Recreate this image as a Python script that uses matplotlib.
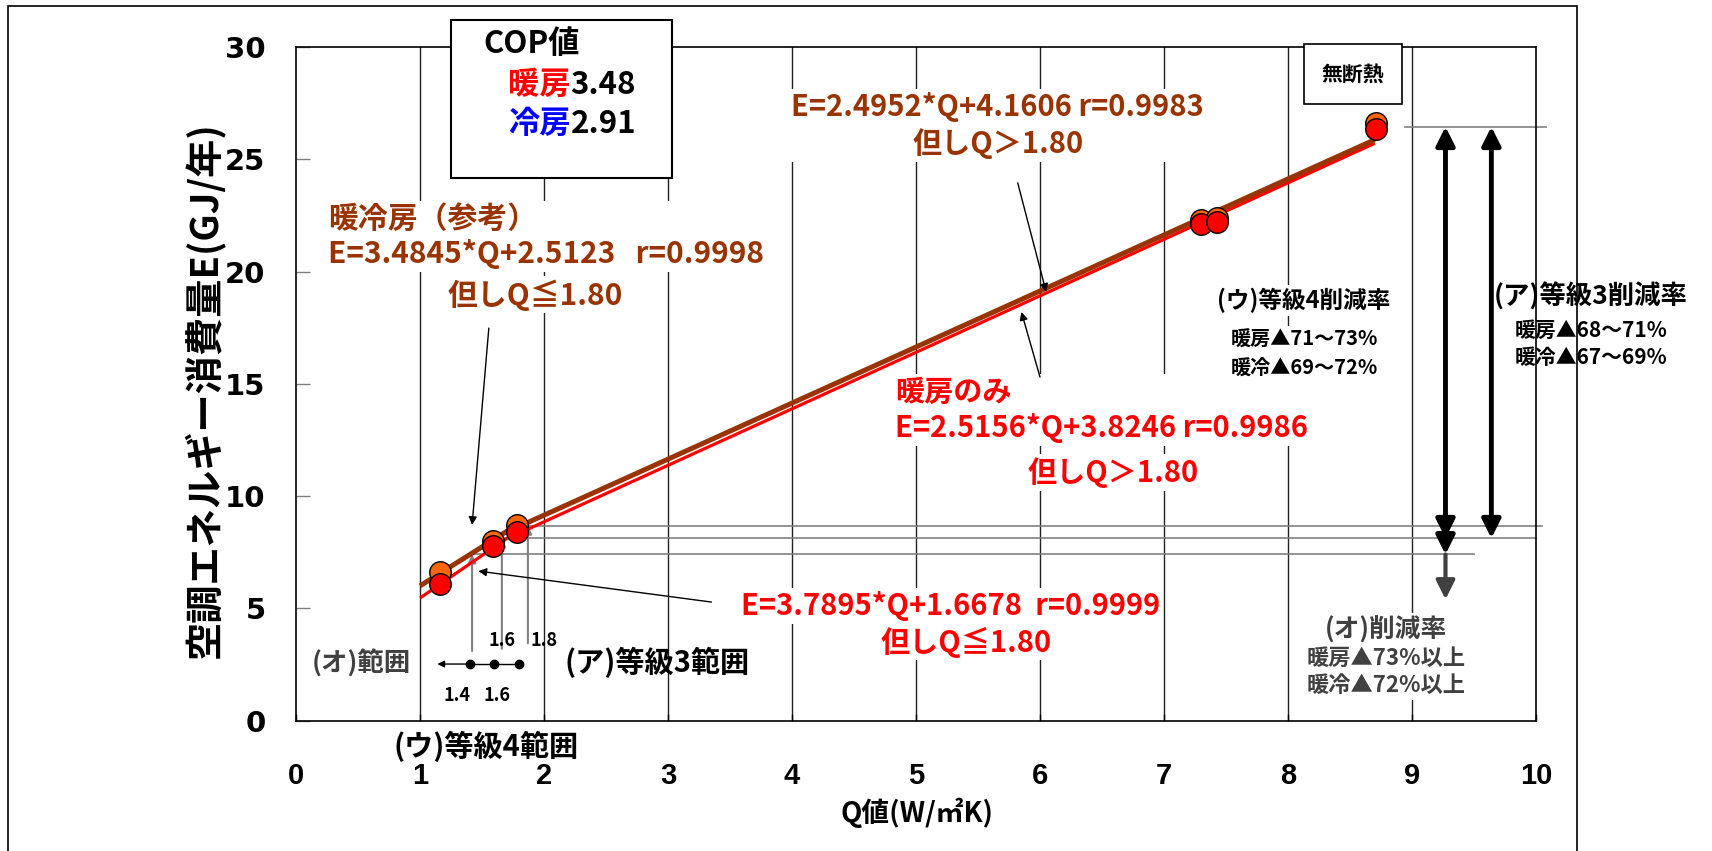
import matplotlib
matplotlib.use("Agg")
import matplotlib.pyplot as plt
from matplotlib.patches import Rectangle

plt.rcParams['font.family'] = ['Noto Sans CJK JP', 'DejaVu Sans']
plt.rcParams['font.weight'] = 'bold'

BROWN = '#993300'
RED = '#ff0000'
ORANGE = '#ff6600'
GRAY = '#808080'
DGRAY = '#404040'

# measured points (Q value, energy E)
q_pts = [1.16, 1.59, 1.78, 7.30, 7.43, 8.71]
e_heatcool = [6.61, 8.02, 8.70, 22.3, 22.4, 26.6]
e_heat = [6.08, 7.78, 8.41, 22.1, 22.2, 26.35]

# fitted lines (end points of the two segments, break at Q=1.80)
fit_q = [1.0, 1.8, 1.8, 8.7]
fit_heatcool = [6.00, 8.78, 8.65, 25.87]
fit_heat = [5.46, 8.49, 8.35, 25.71]

# reference levels and range markers
level_top = 26.45
levels = [8.68, 8.12, 7.40]
level_start = [1.87, 1.66, 1.42]
level_end = [10.05, 10.0, 9.5]
range_q = [1.40, 1.60, 1.80]

xticks = list(range(0, 11))
yticks = list(range(0, 31, 5))

fig = plt.figure(figsize=(17.12, 8.51), dpi=100)
ax = fig.add_axes([0.1729, 0.1532, 0.7243, 0.7916])
ax.set_xlim(0, 10)
ax.set_ylim(0, 30)
ax.set_xticks(xticks)
ax.set_yticks(yticks)
ax.tick_params(axis='y', direction='in', length=10, width=1, color=GRAY,
               labelsize=21, pad=22)
ax.tick_params(axis='x', direction='in', length=5, width=1, labelsize=21, pad=30)
for lab in ax.get_yticklabels():
    lab.set_family('DejaVu Sans')
    lab.set_fontweight('bold')
for lab in ax.get_xticklabels():
    lab.set_family('Liberation Sans')
    lab.set_fontweight('bold')
for s in ax.spines.values():
    s.set_linewidth(1.2)

for q in xticks[1:-1]:
    ax.axvline(q, color='#222222', lw=1.0, zorder=1)

# outer frame
fig.patches.append(Rectangle((0.0047, -0.01), 0.9165, 1.003, transform=fig.transFigure,
                             fill=False, edgecolor='black', lw=1.2))

fig.text(0.119, 0.542, '空調エネルギー消費量E(GJ/年)', rotation=90, ha='center', va='center',
         fontsize=27.5, fontweight='bold')
fig.text(0.5357, 0.0447, 'Q値(W/㎡K)', ha='center', va='center', fontsize=20, fontweight='bold')

# fit lines and points
ax.plot(fit_q[:2], fit_heat[:2], color=RED, lw=2.3, zorder=3, solid_capstyle='butt')
ax.plot(fit_q[2:], fit_heat[2:], color=RED, lw=2.3, zorder=3, solid_capstyle='butt')
ax.plot(fit_q[:2], fit_heatcool[:2], color=BROWN, lw=3.6, zorder=3, solid_capstyle='butt')
ax.plot(fit_q[2:], fit_heatcool[2:], color=BROWN, lw=3.6, zorder=3, solid_capstyle='butt')
ax.plot(q_pts, e_heatcool, 'o', color=ORANGE, mec='black', mew=1, ms=15.5, zorder=4)
ax.plot(q_pts, e_heat, 'o', color=RED, mec='black', mew=1, ms=15.5, zorder=5)

# gray reference lines
ax.plot([8.94, 10.08], [level_top, level_top], color=GRAY, lw=1.2, zorder=2, clip_on=False)
for lv, s, e in zip(levels, level_start, level_end):
    ax.plot([s, e], [lv, lv], color=GRAY, lw=1.2, zorder=2, clip_on=False)
for q, y0, lv in zip([1.42, 1.66, 1.87], [3.1, 3.2, 3.45], [7.40, 8.12, 8.68]):
    ax.annotate('', xy=(q, lv), xytext=(q, y0),
                arrowprops=dict(arrowstyle='-|>', color=GRAY, lw=1.5, mutation_scale=12,
                                shrinkA=0, shrinkB=0), zorder=2)

# range dots
ax.plot(range_q, [2.52] * 3, '-o', color='black', ms=6, lw=1, zorder=4)
ax.annotate('', xy=(1.14, 2.52), xytext=(1.40, 2.52),
            arrowprops=dict(arrowstyle='-|>', color='black', lw=1, mutation_scale=10,
                            shrinkA=0, shrinkB=0))
for q, y, t in [(1.66, 3.59, '1.6'), (2.0, 3.59, '1.8'), (1.30, 1.14, '1.4'), (1.62, 1.14, '1.6')]:
    ax.text(q, y, t, ha='center', va='center', fontsize=13, zorder=5)
ax.text(0.53, 2.56, '(オ)範囲', ha='center', va='center', fontsize=19, color=DGRAY)
ax.text(2.91, 2.6, '(ア)等級3範囲', ha='center', va='center', fontsize=21)
ax.text(1.53, -1.13, '(ウ)等級4範囲', ha='center', va='center', fontsize=21, clip_on=False)

# big reduction arrows
for q, lo in [(9.27, 8.12), (9.64, 8.12)]:
    ax.annotate('', xy=(q, lo), xytext=(q, level_top),
                arrowprops=dict(arrowstyle='<|-|>', color='black', lw=3.5, mutation_scale=28,
                                shrinkA=0, shrinkB=0), zorder=6)
ax.annotate('', xy=(9.27, 7.40), xytext=(9.27, 8.12),
            arrowprops=dict(arrowstyle='-|>', color='black', lw=3.5, mutation_scale=28,
                            shrinkA=0, shrinkB=0), zorder=6)
ax.annotate('', xy=(9.27, 5.4), xytext=(9.27, 7.40),
            arrowprops=dict(arrowstyle='-|>', color=DGRAY, lw=3, mutation_scale=28,
                            shrinkA=0, shrinkB=0), zorder=6)

# thin pointer arrows
for tip, start in [((6.05, 19.09), (5.82, 23.95)), ((5.85, 18.2), (6.0, 15.3)),
                   ((1.42, 8.71), (1.555, 17.48)), ((1.47, 6.66), (3.35, 5.28))]:
    ax.annotate('', xy=tip, xytext=start,
                arrowprops=dict(arrowstyle='-|>', color='black', lw=1, mutation_scale=12,
                                shrinkA=0, shrinkB=0), zorder=6)

wb = dict(facecolor='white', edgecolor='none', pad=2)

# equation texts
ax.text(5.66, 26.5, 'E=2.4952*Q+4.1606 r=0.9983\n但しQ＞1.80', color=BROWN, fontsize=21,
        ha='center', va='center', multialignment='center', linespacing=1.25, bbox=wb, zorder=2)
ax.text(0.255, 21.56, '暖冷房（参考）\nE=3.4845*Q+2.5123   r=0.9998', color=BROWN, fontsize=21.5,
        ha='left', va='center', linespacing=1.25, bbox=wb, zorder=2)
ax.text(1.93, 18.96, '但しQ≦1.80', color=BROWN, fontsize=21.5, ha='center', va='center',
        bbox=wb, zorder=2)
ax.text(4.83, 13.85, '暖房のみ\nE=2.5156*Q+3.8246 r=0.9986', color=RED, fontsize=21,
        ha='left', va='center', linespacing=1.25, bbox=wb, zorder=2)
ax.text(6.59, 11.04, '但しQ＞1.80', color=RED, fontsize=21, ha='center', va='center',
        bbox=wb, zorder=2)
ax.text(5.28, 5.10, 'E=3.7895*Q+1.6678  r=0.9999', color=RED, fontsize=21,
        ha='center', va='center', bbox=wb, zorder=2)
ax.text(5.40, 3.50, '但しQ≦1.80', color=RED, fontsize=21,
        ha='center', va='center', bbox=wb, zorder=2)

# reduction rate texts
ax.text(8.13, 18.72, '(ウ)等級4削減率', ha='center', va='center', fontsize=17, bbox=wb, zorder=2)
ax.text(8.13, 16.36, '暖房▲71～73%\n暖冷▲69～72%', ha='center', va='center', fontsize=14.5,
        linespacing=1.45, bbox=wb, zorder=2)
ax.text(10.44, 18.86, '(ア)等級3削減率', ha='center', va='center', fontsize=19, bbox=wb,
        zorder=2, clip_on=False)
ax.text(10.44, 16.77, '暖房▲68～71%\n暖冷▲67～69%', ha='center', va='center', fontsize=15,
        linespacing=1.4, bbox=wb, zorder=2, clip_on=False)
ax.text(8.79, 4.04, '(オ)削減率', ha='center', va='center', fontsize=18.5, color=DGRAY,
        bbox=wb, zorder=2)
ax.text(8.79, 2.16, '暖房▲73%以上\n暖冷▲72%以上', ha='center', va='center', fontsize=16,
        color=DGRAY, linespacing=1.2, bbox=wb, zorder=2)

# COP box
ax.add_patch(Rectangle((1.25, 24.16), 1.78, 7.04, facecolor='white', edgecolor='black',
                       lw=1.5, zorder=7, clip_on=False))
ax.text(1.51, 30.14, 'COP値', fontsize=22.5, ha='left', va='center', zorder=8, clip_on=False)
t1 = ax.text(1.71, 28.29, '暖房', fontsize=22.5, color=RED, ha='left', va='center', zorder=8)
ax.annotate('3.48', xy=(1, 0), xycoords=t1, ha='left', va='bottom', fontsize=22.5, zorder=8)
t2 = ax.text(1.71, 26.59, '冷房', fontsize=22.5, color='#0000ff', ha='left', va='center', zorder=8)
ax.annotate('2.91', xy=(1, 0), xycoords=t2, ha='left', va='bottom', fontsize=22.5, zorder=8)

# no-insulation box
ax.add_patch(Rectangle((8.13, 27.47), 0.79, 2.67, facecolor='white', edgecolor='black',
                       lw=1.2, zorder=7, clip_on=False))
ax.text(8.52, 28.78, '無断熱', fontsize=15, ha='center', va='center', zorder=8)

fig.savefig('out.png', dpi=100)
